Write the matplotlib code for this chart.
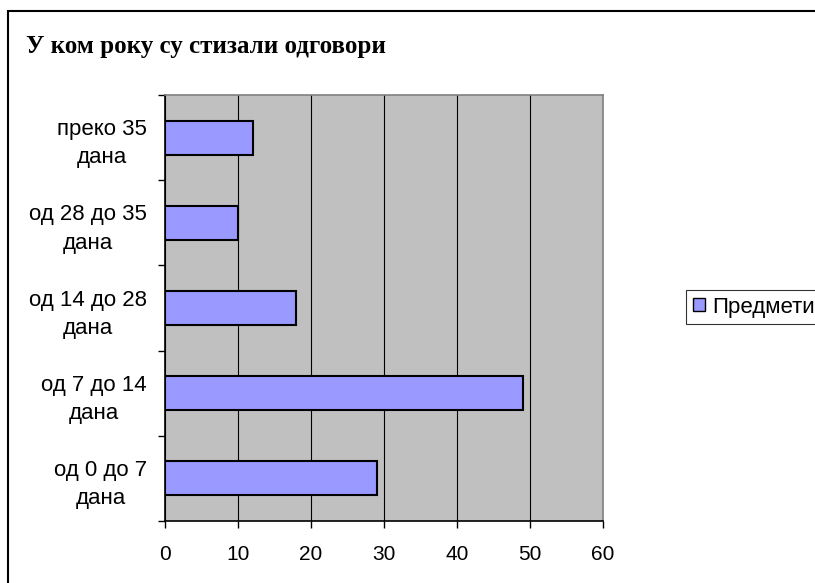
import matplotlib.pyplot as plt
from matplotlib.patches import Rectangle, Patch

# kategorije od dna prema vrhu
kategorije = ['од 0 до 7\nдана', 'од 7 до 14\nдана', 'од 14 до 28\nдана',
              'од 28 до 35\nдана', 'преко 35\nдана']
predmeti = [29, 49, 18, 10, 12]
x_ticks = [0, 10, 20, 30, 40, 50, 60]

W, H = 815, 583
fig = plt.figure(figsize=(W / 100, H / 100), dpi=100)
fig.patch.set_facecolor('white')

# okvir grafikona
fig.patches.append(Rectangle((8 / W, -0.1), 1.2, 1 - 11 / H + 0.1,
                             transform=fig.transFigure, fill=False,
                             edgecolor='black', linewidth=1.5))

ax = fig.add_axes([165 / W, 1 - 521 / H, 438 / W, 426 / H])
ax.set_facecolor('#C0C0C0')

pos = list(range(len(kategorije)))
ax.barh(pos, predmeti, height=0.4, color='#9999FF', edgecolor='black',
        linewidth=1.5, zorder=3, label='Предмети')

ax.set_xlim(0, 60)
ax.set_ylim(-0.5, len(kategorije) - 0.5)
ax.set_xticks(x_ticks)
ax.set_xticklabels([str(v) for v in x_ticks], fontfamily='Liberation Sans',
                   fontsize=15)
ax.tick_params(axis='x', length=5, width=1, pad=12, direction='out')
ax.xaxis.grid(True, color='black', linewidth=0.8, zorder=1)
ax.set_axisbelow(True)

ax.set_yticks([p - 0.5 for p in pos] + [len(pos) - 0.5])
ax.set_yticklabels([])
ax.tick_params(axis='y', which='major', length=5, width=1, direction='out')
ax.set_yticks(pos, minor=True)
ax.set_yticklabels(kategorije, minor=True, fontfamily='Liberation Sans',
                   fontsize=16)
ax.tick_params(axis='y', which='minor', length=0, pad=13)
for lbl in ax.get_yticklabels(minor=True):
    lbl.set_multialignment('center')
    lbl.set_linespacing(1.45)

for s in ['left', 'bottom']:
    ax.spines[s].set_color('black')
    ax.spines[s].set_linewidth(1.2)
for s in ['top', 'right']:
    ax.spines[s].set_color('#808080')
    ax.spines[s].set_linewidth(1.2)

fig.text(26 / W, 1 - 47 / H, 'У ком року су стизали одговори',
         fontfamily='Liberation Serif', fontweight='bold', fontsize=18,
         va='center', ha='left')

leg = fig.legend(handles=[Patch(facecolor='#9999FF', edgecolor='black',
                                label='Предмети')],
                 loc='center left', bbox_to_anchor=(686 / W, 1 - 307 / H),
                 prop={'family': 'Liberation Sans', 'size': 16},
                 frameon=True, fancybox=False, handlelength=0.55,
                 handleheight=0.55, handletextpad=0.35, borderpad=0.3,
                 borderaxespad=0)
leg.get_frame().set_edgecolor('black')
leg.get_frame().set_linewidth(0.8)

fig.savefig('out.png', dpi=100)
